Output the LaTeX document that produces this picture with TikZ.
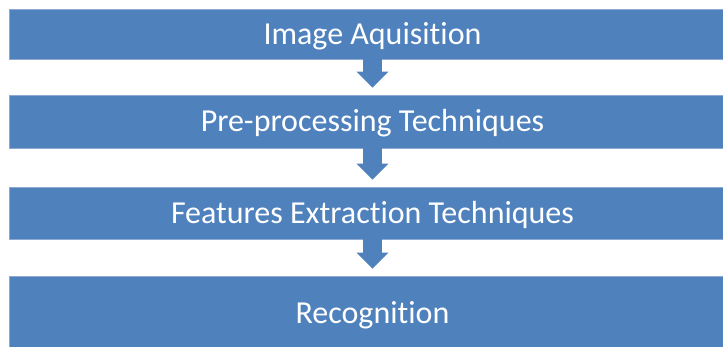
\documentclass[tikz,border=0pt]{standalone}
\usepackage{fontspec}
\setmainfont{Carlito}[Ligatures=NoCommon]
\usetikzlibrary{arrows.meta}

\definecolor{boxblue}{RGB}{79,129,189}
\definecolor{edgeblue}{RGB}{140,170,212}

\tikzstyle{bS}=[rectangle,minimum width = 727pt,inner sep = 0pt,fill=boxblue,draw=edgeblue,line width=0.6pt,text=white,text height=20.6pt,text depth=0pt,font=\fontsize{32}{34}\selectfont]
\tikzstyle{aS}=[draw=boxblue,line width=19pt,shorten >=7pt,-{Triangle[length=16pt,width=31pt]}]

\begin{document}
\begin{tikzpicture}[x=1pt,y=1pt]
                \clip (0,0) rectangle (723,347);
                \draw (372.5,313) node[bS,minimum height=50pt] (b1) {Image Aquisition};
                \draw (372.5,225.5) node[bS,minimum height=53pt] (b2) {Pre-processing Techniques};
                \draw (372.5,134) node[bS,minimum height=52pt] (b3) {Features Extraction Techniques};
                \draw (372.5,34) node[bS,minimum height=74pt] (b4) {Recognition};
                \path
                    (b1) edge[aS] (b2)
                    (b2) edge[aS] (b3)
                    (b3) edge[aS] (b4)
                ;
        \end{tikzpicture}
\end{document}
